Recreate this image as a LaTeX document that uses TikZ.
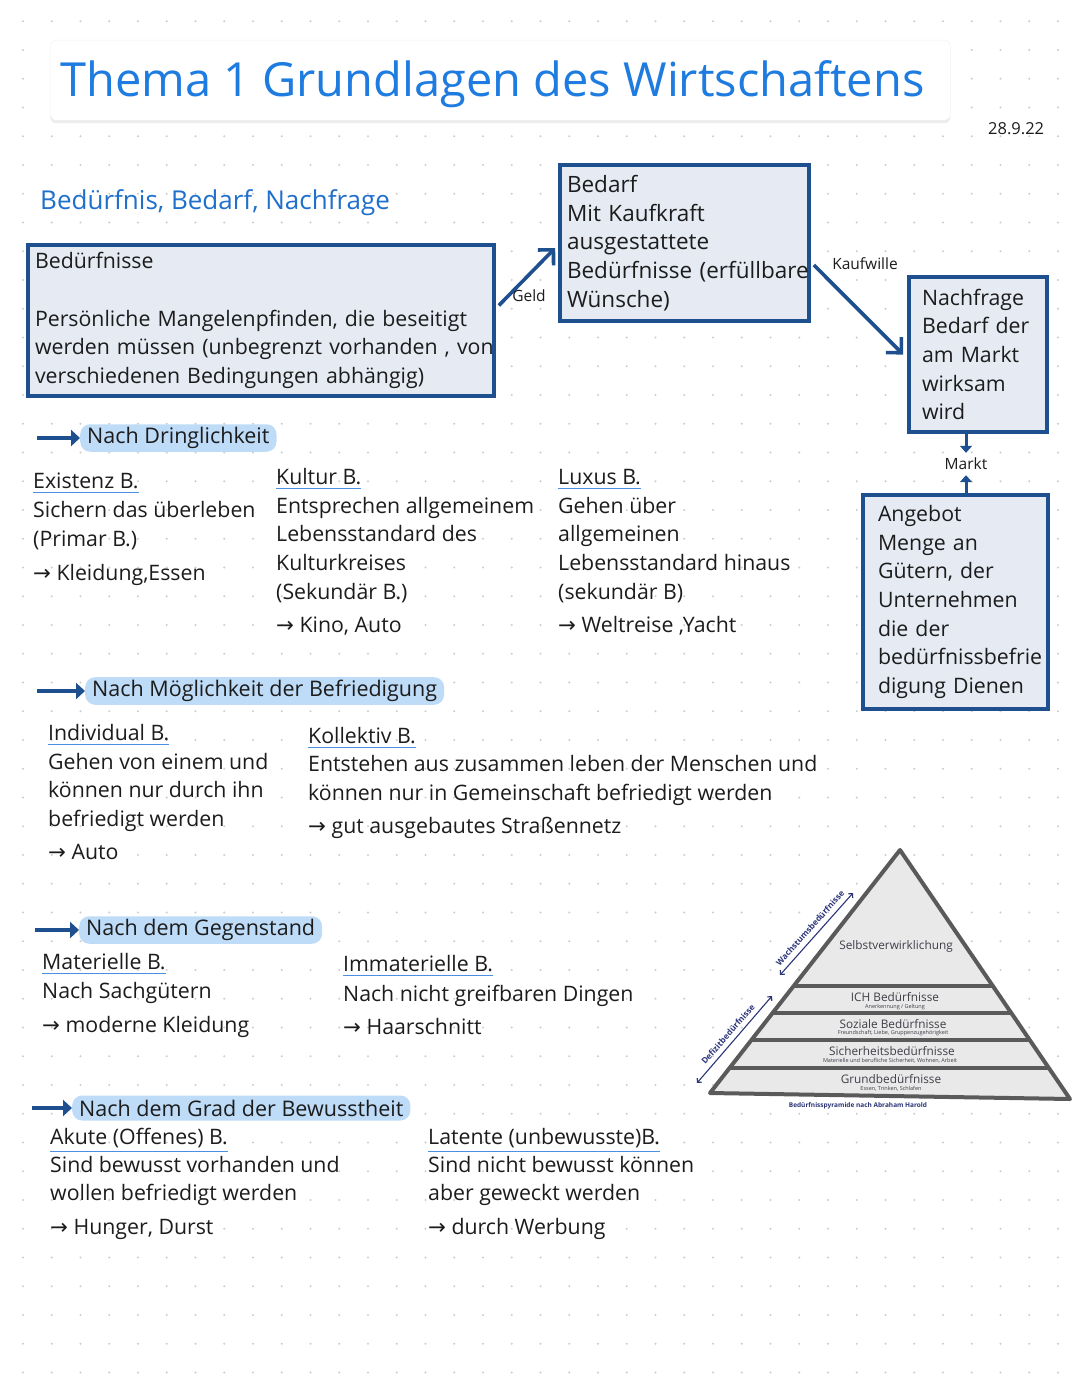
\documentclass[tikz,border=0pt]{standalone}
\usepackage{fontspec}
\setmainfont{Open Sans}
\newfontfamily\arrfont{DejaVu Sans}
\usetikzlibrary{arrows.meta,shadows,calc}
\definecolor{boxline}{HTML}{1E4F8F}
\definecolor{boxfill}{HTML}{E5EAF3}
\definecolor{titleblue}{HTML}{1E7BE0}
\definecolor{headblue}{HTML}{1F6FCC}
\definecolor{pillfill}{HTML}{BEDCF8}
\definecolor{ulblue}{HTML}{4A90E2}
\definecolor{ink}{HTML}{1C1C1C}
\definecolor{dotc}{HTML}{CDCDCD}
\definecolor{pyrfill}{HTML}{E9E9E9}
\definecolor{pyrline}{HTML}{5A5A5A}
\definecolor{pyrtext}{HTML}{3E3E48}
\definecolor{navy}{HTML}{2B3578}
\newcommand{\ar}{{\arrfont →}}
\tikzset{
  txt/.style={font=\fontsize{21.3}{28}\selectfont, text=ink, inner sep=0pt, anchor=base west},
  colhead/.style={txt},
  ul/.style={draw=ulblue, line width=1.6pt},
  bx/.style={draw=boxline, line width=3.6pt, fill=boxfill, align=left, inner ysep=0pt,
     font=\fontsize{21.3}{28.7}\selectfont, text=ink},
  conn/.style={draw=boxline, line width=3.6pt, -{Straight Barb[length=11pt,width=22pt,line width=3.6pt]}},
  smallarr/.style={draw=boxline, line width=3pt, -{Triangle[length=7pt,width=12pt]}},
  secarr/.style={draw=boxline, line width=4pt, -{Triangle[length=9pt,width=16pt]}},
  pill/.style={fill=pillfill, rounded corners=10pt, inner xsep=7pt, inner ysep=3pt,
     font=\fontsize{21.5}{24}\selectfont, text=ink, anchor=west, minimum height=25pt},
  lbl/.style={font=\fontsize{15.5}{17}\selectfont, text=ink, inner sep=1pt},
  pyr/.style={font=\fontsize{11.8}{13}\selectfont, text=pyrtext, inner sep=0pt},
  pyrsub/.style={font=\fontsize{5.5}{6}\selectfont, text=pyrtext, inner sep=0pt},
  captxt/.style={font=\fontsize{6.5}{7}\selectfont\bfseries, text=navy, inner sep=0pt},
  side/.style={font=\fontsize{8.3}{9}\selectfont\bfseries, text=navy, inner sep=0pt},
  sidearr/.style={draw=navy, line width=1.1pt, {Straight Barb[length=3pt,width=6pt]}-{Straight Barb[length=3pt,width=6pt]}}
}
\begin{document}
\begin{tikzpicture}[x=1pt,y=-1pt]
\useasboundingbox (0,0) rectangle (1080,1397);
\fill[white] (0,0) rectangle (1080,1397);
% dot grid
\foreach \i in {0,...,37}{\foreach \j in {0,...,48}{
  \fill[dotc] (22.95+\i*28.75, 21.25+\j*28.75) circle (1.1pt);}}

% title
\node[fill=white, draw=black!6, rounded corners=6pt, minimum width=900pt, minimum height=80pt,
      drop shadow={opacity=0.15, shadow xshift=0pt, shadow yshift=-3pt},
      anchor=north west] (titlebox) at (50,40) {};
\node[font=\fontsize{47}{50}\selectfont, text=titleblue, anchor=base west, inner sep=0pt]
  (title) at (60,96) {Thema 1 Grundlagen des Wirtschaftens};
\node[font=\fontsize{16.5}{18}\selectfont, text=ink, anchor=base west, inner sep=0pt]
  (date) at (988,134) {28.9.22};

\node[font=\fontsize{26}{28}\selectfont, text=headblue, anchor=base west, inner sep=0pt]
  (sub) at (40,209) {Bedürfnis, Bedarf, Nachfrage};

% boxes
\node[bx, minimum width=466pt, minimum height=151pt, inner xsep=7pt, text width=452pt]
  (b1) at (261,320.5) {Bedürfnisse\\[28.7pt]\mbox{Persönliche Mangelenpfinden, die beseitigt}\\\mbox{werden müssen (unbegrenzt vorhanden , von}\\\mbox{verschiedenen Bedingungen abhängig)}};
\node[bx, minimum width=249pt, minimum height=156pt, inner xsep=7pt, text width=235pt, font=\fontsize{22.5}{28.7}\selectfont]
  (b2) at (684.5,243) {Bedarf\\Mit Kaufkraft\\ausgestattete\\\mbox{Bedürfnisse (erfüllbare}\\Wünsche)};
\node[bx, minimum width=138pt, minimum height=155pt, inner xsep=13pt, text width=112pt]
  (b3) at (978,354.5) {Nachfrage\\\mbox{Bedarf der}\\\mbox{am Markt}\\wirksam\\wird};
\node[bx, minimum width=185pt, minimum height=214pt, inner xsep=15pt, text width=155pt]
  (b4) at (955.5,602) {Angebot\\\mbox{Menge an}\\\mbox{Gütern, der}\\Unternehmen\\\mbox{die der}\\bedürfnissbefrie\\\mbox{digung Dienen}};

% connectors
\draw[conn] ($(b1.east)+(3,-15)$) -- ($(b2.west)+(-3,5)$);
\node[lbl, anchor=center] (geld) at (529,296) {Geld};
\draw[conn] ($(b2.east)+(3,22)$) -- ($(b3.west)+(-4,0)$);
\node[lbl, anchor=center] (kauf) at (865,264) {Kaufwille};
\node[lbl, minimum height=22pt] (markt) at (966,464) {Markt};
\draw[smallarr] (b3.south -| markt.north) -- (markt.north);
\draw[smallarr] (b4.north -| markt.south) -- (markt.south);

% section 1
\node[pill] (p1) at (80,438) {Nach Dringlichkeit};
\coordinate (s1) at (37,438);
\draw[secarr] (s1) -- (p1.west);

\node[colhead] (h11) at (33,488) {Existenz B.};
\draw[ul] ([yshift=-4pt]h11.south west) -- ([yshift=-4pt]h11.south east);
\node[txt] at (33,517) {Sichern das überleben};
\node[txt] at (33,546) {(Primar B.)};
\node[txt] at (33,580) {\ar\ Kleidung,Essen};

\node[colhead] (h12) at (276,484) {Kultur B.};
\draw[ul] ([yshift=-4pt]h12.south west) -- ([yshift=-4pt]h12.south east);
\node[txt] at (276,513) {Entsprechen allgemeinem};
\node[txt] at (276,541) {Lebensstandard des};
\node[txt] at (276,570) {Kulturkreises};
\node[txt] at (276,599) {(Sekundär B.)};
\node[txt] at (276,632) {\ar\ Kino, Auto};

\node[colhead] (h13) at (558,484) {Luxus B.};
\draw[ul] ([yshift=-4pt]h13.south west) -- ([yshift=-4pt]h13.south east);
\node[txt] at (558,513) {Gehen über};
\node[txt] at (558,541) {allgemeinen};
\node[txt] at (558,570) {Lebensstandard hinaus};
\node[txt] at (558,599) {(sekundär B)};
\node[txt] at (558,632) {\ar\ Weltreise ,Yacht};

% section 2
\node[pill] (p2) at (85,691) {Nach Möglichkeit der Befriedigung};
\coordinate (s2) at (37,691);
\draw[secarr] (s2) -- (p2.west);

\node[colhead] (h21) at (48,740) {Individual B.};
\draw[ul] ([yshift=-4pt]h21.south west) -- ([yshift=-4pt]h21.south east);
\node[txt] at (48,769) {Gehen von einem und};
\node[txt] at (48,797) {können nur durch ihn};
\node[txt] at (48,826) {befriedigt werden};
\node[txt] at (48,859) {\ar\ Auto};

\node[colhead] (h22) at (308,743) {Kollektiv B.};
\draw[ul] ([yshift=-4pt]h22.south west) -- ([yshift=-4pt]h22.south east);
\node[txt] at (308,771) {Entstehen aus zusammen leben der Menschen und};
\node[txt] at (308,800) {können nur in Gemeinschaft befriedigt werden};
\node[txt] at (308,833) {\ar\ gut ausgebautes Straßennetz};

% section 3
\node[pill] (p3) at (79,930) {Nach dem Gegenstand};
\coordinate (s3) at (35,930);
\draw[secarr] (s3) -- (p3.west);

\node[colhead] (h31) at (42,969) {Materielle B.};
\draw[ul] ([yshift=-4pt]h31.south west) -- ([yshift=-4pt]h31.south east);
\node[txt] at (42,998) {Nach Sachgütern};
\node[txt] at (42,1032) {\ar\ moderne Kleidung};

\node[colhead] (h32) at (343,971) {Immaterielle B.};
\draw[ul] ([yshift=-4pt]h32.south west) -- ([yshift=-4pt]h32.south east);
\node[txt] at (343,1001) {Nach nicht greifbaren Dingen};
\node[txt] at (343,1034) {\ar\ Haarschnitt};

% section 4
\node[pill] (p4) at (72,1108) {Nach dem Grad der Bewusstheit};
\coordinate (s4) at (32,1108);
\draw[secarr] (s4) -- (p4.west);

\node[colhead] (h41) at (50,1144) {Akute (Offenes) B.};
\draw[ul] ([yshift=-4pt]h41.south west) -- ([yshift=-4pt]h41.south east);
\node[txt] at (50,1172) {Sind bewusst vorhanden und};
\node[txt] at (50,1200) {wollen befriedigt werden};
\node[txt] at (50,1234) {\ar\ Hunger, Durst};

\node[colhead] (h42) at (428,1144) {Latente (unbewusste)B.};
\draw[ul] ([yshift=-4pt]h42.south west) -- ([yshift=-4pt]h42.south east);
\node[txt] at (428,1172) {Sind nicht bewusst können};
\node[txt] at (428,1200) {aber geweckt werden};
\node[txt] at (428,1234) {\ar\ durch Werbung};

% pyramid
\filldraw[fill=pyrfill, draw=pyrline, line width=4pt, line join=round]
  (900,850) -- (1070,1099) -- (710,1093) -- cycle;
\draw[pyrline, line width=4pt] (793.7,986) -- (992.9,986);
\draw[pyrline, line width=4pt] (772.6,1013) -- (1011.3,1013);
\draw[pyrline, line width=4pt] (751.4,1040) -- (1029.7,1040);
\draw[pyrline, line width=4pt] (729.5,1068) -- (1048.8,1068);

\node[pyr] (l5) at (896,946) {Selbstverwirklichung};
\node[pyr] (l4) at (895,997) {ICH Bedürfnisse};
\node[pyrsub] at (895,1007) {Anerkennung / Geltung};
\node[pyr] (l3) at (893,1024) {Soziale Bedürfnisse};
\node[pyrsub] at (893,1033.5) {Freundschaft, Liebe, Gruppenzugehörigkeit};
\node[pyr] (l2) at (892,1051) {Sicherheitsbedürfnisse};
\node[pyrsub] at (890,1060.5) {Materielle und berufliche Sicherheit, Wohnen, Arbeit};
\node[pyr] (l1) at (891,1079) {Grundbedürfnisse};
\node[pyrsub] at (891,1089) {Essen, Trinken, Schlafen};
\node[captxt] (capt) at (858,1106) {Bedürfnisspyramide nach Abraham Harold};

\coordinate (d1) at (697,1083);
\coordinate (d2) at (772,996);
\draw[sidearr] (d1) -- (d2);
\node[side, rotate=49] (dl) at (728,1034) {Defizitbedürfnisse};
\coordinate (w1) at (780,975);
\coordinate (w2) at (853,893);
\draw[sidearr] (w1) -- (w2);
\node[side, rotate=48] (wl) at (810,928) {Wachstumsbedürfnisse};
\end{tikzpicture}
\end{document}
